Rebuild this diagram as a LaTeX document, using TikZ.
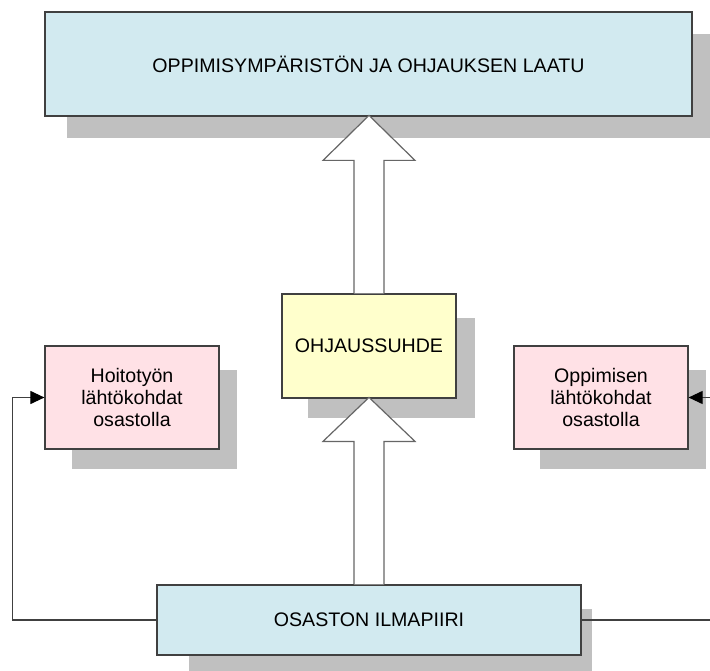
\documentclass[tikz,border=0pt]{standalone}
\usepackage{fontspec}
\setmainfont{Liberation Sans}
\usetikzlibrary{positioning,arrows.meta}

\definecolor{laatublue}{RGB}{210,234,240}
\definecolor{lahtopink}{RGB}{255,225,230}
\definecolor{suhdeyellow}{RGB}{255,255,204}
\definecolor{varjo}{RGB}{192,192,192}
\definecolor{viiva}{RGB}{64,64,64}

\begin{document}
\begin{tikzpicture}[x=1pt, y=-1pt,
    box/.style={draw=viiva, line width=1.2pt, align=center, inner sep=0pt,
        font=\fontsize{19.6}{22}\selectfont},
    shade/.style={fill=varjo, draw=none},
    bigarrow/.style={draw=black!60, line width=1.2pt, fill=white},
    conn/.style={draw=viiva, line width=1.1pt,
        -{Triangle[length=14pt,width=13pt,color=black]}}]
    \useasboundingbox (0,0) rectangle (710,671);

    % varjot
    \fill[shade] (67,34) rectangle (712,138);
    \fill[shade] (308,318) rectangle (475,418);
    \fill[shade] (72,370) rectangle (237,469);
    \fill[shade] (540,370) rectangle (706,469);
    \fill[shade] (189,609) rectangle (592,673);

    \node[box, fill=laatublue, minimum width=647pt, minimum height=104pt] (laatu) at (368.5,64)
        {OPPIMISYMPÄRISTÖN JA OHJAUKSEN LAATU};
    \node[box, fill=suhdeyellow, minimum width=174pt, minimum height=104pt] (ohjaus) at (369,346)
        {OHJAUSSUHDE};
    \node[box, fill=lahtopink, minimum width=174pt, minimum height=103pt] (hoito) at (132,397.5)
        {Hoitotyön\\lähtökohdat\\osastolla};
    \node[box, fill=lahtopink, minimum width=174pt, minimum height=103pt] (oppi) at (601,397.5)
        {Oppimisen\\lähtökohdat\\osastolla};
    \node[box, fill=laatublue, minimum width=424pt, minimum height=70pt] (ilma) at (369,620)
        {OSASTON ILMAPIIRI};

    % nuolet
    \draw[bigarrow, shift={(ohjaus.north)}] (-15,0) -- (-15,-133) -- (-46,-133) -- (0,-178)
        -- (46,-133) -- (15,-133) -- (15,0);
    \draw[bigarrow, shift={(ilma.north)}] (-15,0) -- (-15,-143) -- (-46,-143) -- (0,-187)
        -- (46,-143) -- (15,-143) -- (15,0);

    \draw[conn] (ilma.west) -- ++(-144,0) |- (hoito.west);
    \draw[conn] (ilma.east) -- ++(131,0) |- (oppi.east);
\end{tikzpicture}
\end{document}
